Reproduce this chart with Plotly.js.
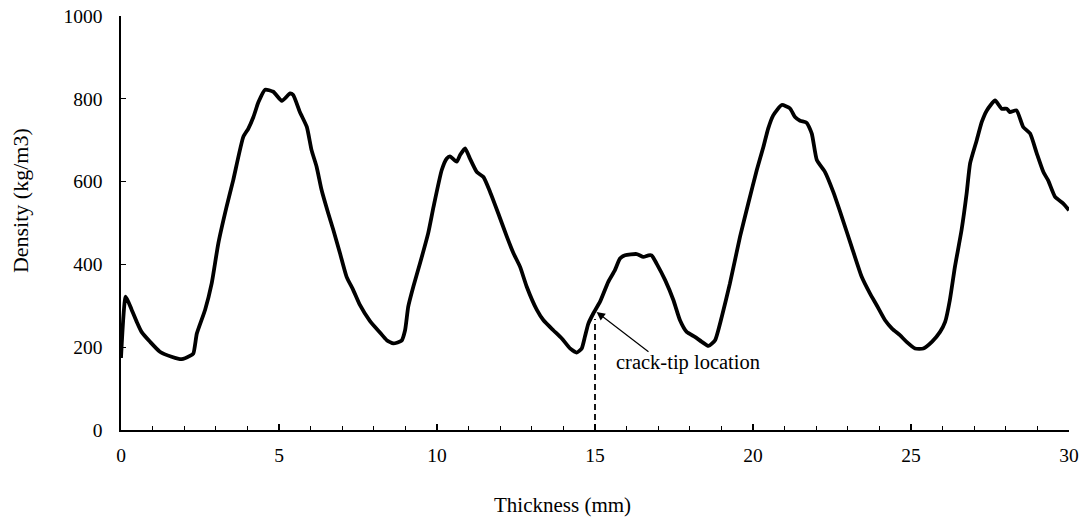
<!DOCTYPE html>
<html>
<head>
<meta charset="utf-8">
<script src="https://cdn.plot.ly/plotly-3.0.1.min.js"></script>
<style>html,body{margin:0;padding:0;background:#fff;}#chart{width:1083px;height:517px;}</style>
</head>
<body>
<div id="chart"></div>
<script>
const thickness = [0,0.15,0.34,0.5,0.65,0.92,1.23,1.6,1.92,2.18,2.29,2.4,2.66,2.87,3.08,3.34,3.55,3.87,4.03,4.19,4.35,4.56,4.82,5.09,5.35,5.45,5.66,5.88,6.03,6.19,6.35,6.56,6.72,6.93,7.14,7.35,7.56,7.88,8.2,8.41,8.62,8.88,8.99,9.09,9.25,9.46,9.72,9.89,10.15,10.31,10.41,10.62,10.73,10.89,11.04,11.26,11.47,11.68,11.94,12.21,12.42,12.63,12.84,13.16,13.37,13.68,13.95,14.21,14.42,14.58,14.68,14.79,14.95,15.16,15.42,15.63,15.79,15.95,16.32,16.53,16.69,16.79,16.95,17.22,17.48,17.69,17.9,18.16,18.38,18.59,18.8,19.01,19.27,19.59,19.85,20.12,20.33,20.48,20.64,20.91,21.17,21.33,21.49,21.7,21.86,22.02,22.28,22.54,22.81,23.12,23.44,23.7,23.91,24.18,24.4,24.65,24.86,25.13,25.39,25.66,25.92,26.08,26.23,26.39,26.6,26.76,26.87,27.08,27.24,27.4,27.66,27.87,28.03,28.13,28.34,28.55,28.77,28.98,29.19,29.34,29.56,29.82,30];
const density = [174,322,290,261,237,213,189,177,171,179,185,233,290,354,451,539,603,708,728,756,792,822,817,795,813,809,768,732,676,636,579,523,483,427,370,338,302,263,235,217,209,216,241,298,346,402,475,539,628,656,661,648,664,680,656,623,611,575,523,467,427,394,346,290,265,241,221,197,187,197,225,257,282,310,358,386,414,422,425,418,422,422,402,362,314,265,237,225,213,203,217,273,354,467,547,628,684,728,760,785,777,756,747,742,716,652,623,575,515,443,370,330,302,265,245,229,213,197,197,213,237,261,314,394,483,571,644,700,744,772,796,776,776,768,772,732,716,668,623,603,563,547,531];
const crackX = [15,15];
const crackY = [0,268];
const xTickVals = [0,5,10,15,20,25,30];
const yTickVals = [0,200,400,600,800,1000];
const annText = "crack-tip location";
const xTitle = "Thickness (mm)";
const yTitle = "Density (kg/m3)";

const font = {family: "'Liberation Serif','Times New Roman',serif", color: "#000"};

Plotly.newPlot("chart", [
  {x: thickness, y: density, mode: "lines", line: {color: "#000", width: 3.8, shape: "spline", smoothing: 0.5}, hoverinfo: "skip"},
  {x: crackX, y: crackY, mode: "lines", line: {color: "#000", width: 1.8, dash: "6px,4px"}, hoverinfo: "skip"}
], {
  width: 1083, height: 517,
  margin: {l: 121, r: 14, t: 16, b: 87},
  paper_bgcolor: "#fff", plot_bgcolor: "#fff",
  showlegend: false,
  font: Object.assign({size: 20}, font),
  xaxis: {
    range: [0, 30], tickvals: xTickVals, ticks: "inside", ticklen: 6, tickwidth: 1.3, tickcolor: "#000",
    minor: {dtick: 1, tick0: 0, ticks: "inside", ticklen: 4, tickwidth: 1.3, tickcolor: "#000", showgrid: false},
    showline: true, linecolor: "#000", linewidth: 1.6, showgrid: false, zeroline: false,
    ticklabelstandoff: 7,
    tickfont: Object.assign({size: 19.5}, font)
  },
  yaxis: {
    range: [0, 1000], tickvals: yTickVals, ticks: "inside", ticklen: 5, tickwidth: 1.3, tickcolor: "#000",
    showline: true, linecolor: "#000", linewidth: 1.6, showgrid: false, zeroline: false,
    ticklabelstandoff: 13,
    tickfont: Object.assign({size: 19.5}, font)
  },
  annotations: [{
    x: 15.05, y: 285, ax: 16.74, ay: 186, axref: "x", ayref: "y",
    showarrow: true, arrowhead: 2, arrowsize: 1.4, arrowwidth: 1.2, arrowcolor: "#000", text: ""
  }, {
    x: 17.94, y: 162, xref: "x", yref: "y", text: annText, showarrow: false,
    font: Object.assign({size: 20.5}, font)
  }, {
    x: 0.4662, y: -0.1812, xref: "paper", yref: "paper", xanchor: "center", yanchor: "middle",
    text: xTitle, showarrow: false, font: Object.assign({size: 21}, font), borderpad: 0
  }, {
    x: -0.1065, y: 0.553, xref: "paper", yref: "paper", xanchor: "center", yanchor: "middle",
    text: yTitle, textangle: -90, showarrow: false, font: Object.assign({size: 22}, font)
  }]
}, {displayModeBar: false, staticPlot: true});
</script>
</body>
</html>
